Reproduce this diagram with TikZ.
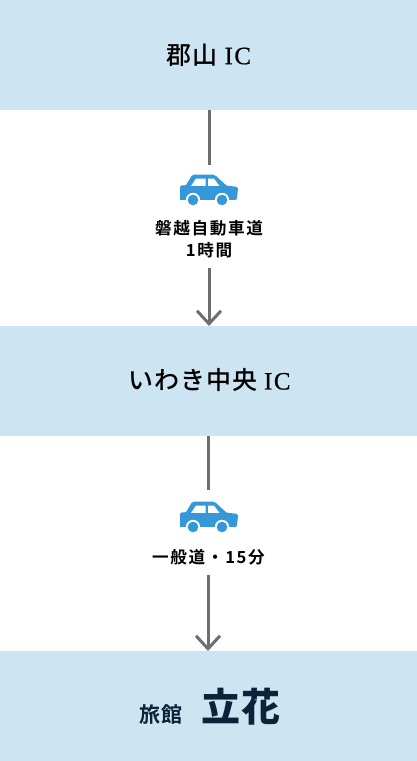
\documentclass[tikz,border=0pt]{standalone}
\usepackage{fontspec}
\newfontfamily\jpb[LetterSpace=10]{Noto Sans CJK JP Bold}
\newfontfamily\jpm[LetterSpace=4]{Noto Sans CJK JP Medium}
\newfontfamily\jpt[LetterSpace=8]{Noto Sans CJK JP Bold}
\newfontfamily\jpk[LetterSpace=2]{Noto Sans CJK JP Black}
\newfontfamily\latinserif[LetterSpace=6,FakeBold=0.6]{Liberation Serif}
\definecolor{band}{HTML}{CDE4F3}
\definecolor{carblue}{HTML}{3498DB}
\definecolor{linegray}{HTML}{6E6E70}
\definecolor{ink}{HTML}{0B2238}
\usetikzlibrary{arrows.meta}
\tikzset{
  x=1pt,y=1pt,
  bandbox/.style={fill=band,draw=none,minimum width=417pt,minimum height=110pt,inner sep=0pt,outer sep=0pt,anchor=north west},
  route/.style={draw=linegray,line width=3pt},
  routearrow/.style={route,-{Straight Barb[length=13pt,width=24pt,line width=3pt]}},
  title/.style={font=\jpm\fontsize{25}{28}\selectfont,text=black,inner sep=0pt},
  caption/.style={font=\jpb\fontsize{16.6}{21.5}\selectfont,text=black,align=center,inner sep=0pt},
}
\newcommand{\carat}[2]{%
  \begin{scope}[shift={(#1,#2)}]
    \fill[carblue] (-29,-12) -- (-29,1) .. controls (-29,2) and (-28.5,2.5) .. (-27.5,2.6) -- (-23,2.8) -- (-17.5,12) .. controls (-17,13) and (-16,13.3) .. (-15,13.3) -- (4,13.3) .. controls (5.2,13.3) and (6,13) .. (7,12) -- (17.5,2.4) -- (27.5,1.2) .. controls (28.5,1) and (29,0.5) .. (29,-0.5) -- (28,-10) .. controls (27.8,-11.5) and (27,-12) .. (26,-12) -- cycle;
    \fill[white] (-18,2) -- (-13,9.4) -- (-3.5,9.4) -- (-3.5,2) -- cycle;
    \fill[white] (-1,2) -- (-1,9.4) -- (5,9.4) -- (10.5,2) -- cycle;
    \fill[white] (-16,-12) circle (7.2);
    \fill[white] (13,-12) circle (7.2);
    \fill[carblue] (-16,-12) circle (5.3);
    \fill[carblue] (13,-12) circle (5.3);
  \end{scope}}
\begin{document}
\begin{tikzpicture}
\useasboundingbox (0,0) rectangle (417,761);
\node[bandbox] (top) at (0,761) {};
\node[bandbox] (mid) at (0,435) {};
\node[bandbox] (bot) at (0,110) {};

\node[title] (t1) at (209,706) {郡山 {\latinserif IC}};
\node[title] (t2) at (209.5,381) {いわき中央 {\latinserif IC}};
\node[font=\jpt\fontsize{21}{24}\selectfont,text=ink,inner sep=0pt] (t3a) at (161,46) {旅館};
\node[font=\jpk\fontsize{39}{44}\selectfont,text=ink,inner sep=0pt] (t3b) at (241,54) {立花};

\carat{209}{573}
\carat{209}{246}

\node[caption] (c1) at (209,522) {磐越自動車道\\1時間};
\node[caption] (c2) at (208.5,204) {一般道・15分};

\coordinate (a1) at (209,596);
\coordinate (a2) at (209,493);
\coordinate (a3) at (208,325);
\coordinate (a4) at (208,271);
\coordinate (a5) at (208,186);

\draw[route] (top.south -| a1) -- (a1);
\draw[routearrow] (a2) -- (mid.north -| a2);
\draw[route] (mid.south -| a3) -- (a4);
\draw[routearrow] (a5) -- (bot.north -| a5);
\end{tikzpicture}
\end{document}
